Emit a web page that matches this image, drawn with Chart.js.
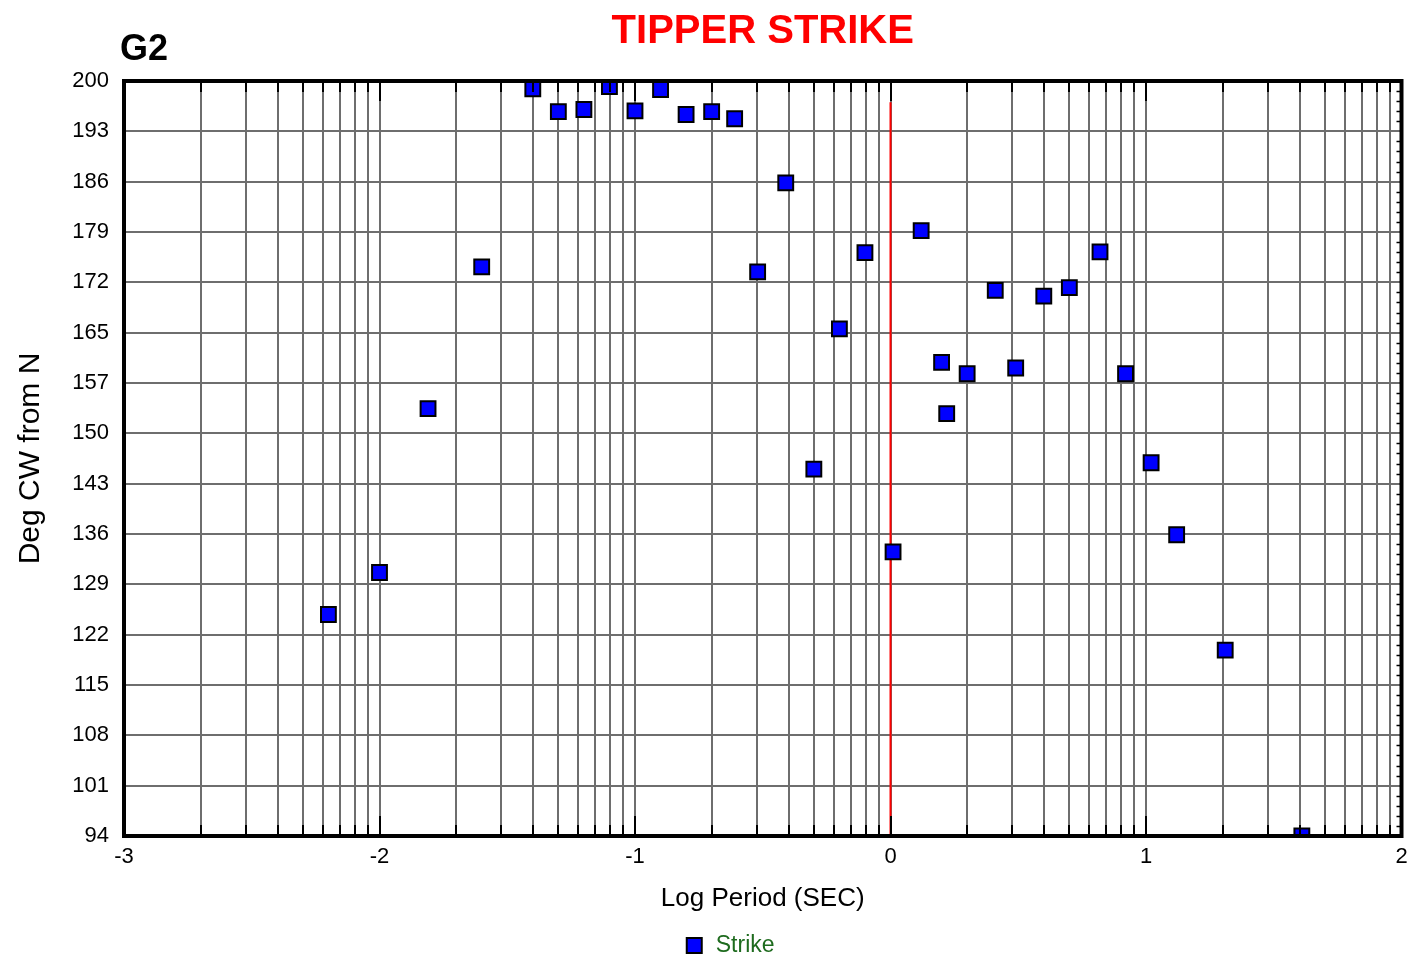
<!DOCTYPE html>
<html>
<head>
<meta charset="utf-8">
<script src="https://cdn.jsdelivr.net/npm/chart.js@4.4.1/dist/chart.umd.min.js"></script>
<style>
  html, body { margin: 0; padding: 0; background: #ffffff; }
  #wrap { width: 1414px; height: 958px; }
</style>
</head>
<body>
<div id="wrap"><canvas id="c" width="1414" height="958"></canvas></div>
<script>
// ---- data ----
const logPeriod = [-2.2, -2.0, -1.81, -1.6, -1.4, -1.3, -1.2, -1.1, -1.0, -0.9, -0.8, -0.7, -0.61, -0.52, -0.41, -0.3, -0.2, -0.1, 0.01, 0.12, 0.2, 0.22, 0.3, 0.41, 0.49, 0.6, 0.7, 0.82, 0.92, 1.02, 1.12, 1.31, 1.61];
const strikeDeg = [125.1, 131.0, 154.0, 173.9, 198.9, 195.7, 196.0, 199.2, 195.8, 198.8, 195.3, 195.7, 194.7, 173.2, 185.7, 145.5, 165.2, 175.9, 133.9, 179.0, 160.5, 153.3, 158.9, 170.6, 159.7, 169.8, 171.0, 176.0, 158.9, 146.4, 136.3, 120.1, 94.0];
const xDecades = [-3, -2, -1, 0, 1, 2];
const xTickLabels = ['-3', '-2', '-1', '0', '1', '2'];
const yTickLabels = ['94', '101', '108', '115', '122', '129', '136', '143', '150', '157', '165', '172', '179', '186', '193', '200'];
const yRange = [94, 200];
const refLineX = [0, 0];
const refLineY = [197, 94];
const chartTitle = 'TIPPER STRIKE';
const siteLabel = 'G2';
const seriesName = 'Strike';
const xTitle = 'Log Period (SEC)';
const yTitle = 'Deg CW from N';

// grid positions: each decade plus log-spaced sub-decade lines
const xGridValues = [];
for (let i = 0; i < xDecades.length - 1; i++) {
  xGridValues.push(xDecades[i]);
  for (let k = 2; k <= 9; k++) xGridValues.push(xDecades[i] + Math.log10(k));
}
xGridValues.push(xDecades[xDecades.length - 1]);
const yTickValues = yTickLabels.map((_, i) => yRange[0] + i * (yRange[1] - yRange[0]) / (yTickLabels.length - 1));

Chart.defaults.font.family = '"Liberation Sans", Arial, sans-serif';
const GRID = '#6e6e6e';

const decor = {
  id: 'decor',
  afterDatasetsDraw(chart) {
    const { ctx, chartArea: a, scales: { x, y } } = chart;
    ctx.save();
    ctx.strokeStyle = '#000';
    ctx.lineWidth = 2;
    // inward tick marks on top and bottom edges
    x.ticks.forEach(t => {
      const px = Math.round(x.getPixelForValue(t.value));
      const major = Math.abs(t.value - Math.round(t.value)) < 1e-9;
      const len = major ? 20 : 11;
      ctx.beginPath();
      ctx.moveTo(px, a.top); ctx.lineTo(px, a.top + len);
      ctx.moveTo(px, a.bottom); ctx.lineTo(px, a.bottom - len);
      ctx.stroke();
    });
    // small inward ticks on right edge
    const step = yTickValues[1] - yTickValues[0];
    ctx.lineWidth = 1.5;
    yTickValues.forEach((v, i) => {
      if (i === yTickValues.length - 1) return;
      for (let j = 1; j < 5; j++) {
        const py = Math.round(y.getPixelForValue(v + j * step / 5)) + 0.5;
        ctx.beginPath();
        ctx.moveTo(a.right - 5, py); ctx.lineTo(a.right, py);
        ctx.stroke();
      }
    });
    // frame
    ctx.lineWidth = 4;
    ctx.strokeRect(a.left, a.top, a.right - a.left, a.bottom - a.top);
    ctx.restore();
  },
  afterDraw(chart) {
    const { ctx, chartArea: a } = chart;
    const cx = (a.left + a.right) / 2;
    ctx.save();
    ctx.textBaseline = 'alphabetic';
    // title
    ctx.fillStyle = '#ff0000';
    ctx.font = 'bold 40px "Liberation Sans", Arial, sans-serif';
    ctx.textAlign = 'center';
    ctx.fillText(chartTitle, cx, a.top - 38);
    // site label
    ctx.fillStyle = '#000';
    ctx.font = 'bold 36px "Liberation Sans", Arial, sans-serif';
    ctx.textAlign = 'left';
    ctx.fillText(siteLabel, a.left - 4, a.top - 21);
    // legend
    const ds = chart.data.datasets[0];
    const bx = cx - 76, by = chart.height - 20;
    ctx.fillStyle = ds.backgroundColor;
    ctx.fillRect(bx, by, 15, 15);
    ctx.strokeStyle = ds.borderColor;
    ctx.lineWidth = 2;
    ctx.strokeRect(bx, by, 15, 15);
    ctx.fillStyle = '#1e6b1e';
    ctx.font = '23px "Liberation Sans", Arial, sans-serif';
    ctx.fillText(seriesName, bx + 29, by + 14);
    ctx.restore();
  }
};

new Chart(document.getElementById('c'), {
  type: 'scatter',
  data: {
    datasets: [
      {
        label: seriesName,
        data: logPeriod.map((v, i) => ({ x: v, y: strikeDeg[i] })),
        pointStyle: 'rect',
        pointRadius: 10.5,
        pointHoverRadius: 10.5,
        backgroundColor: '#0000ff',
        borderColor: '#000000',
        borderWidth: 2,
        clip: 0
      },
      {
        label: 'ref',
        data: refLineX.map((v, i) => ({ x: v, y: refLineY[i] })),
        showLine: true,
        borderColor: '#ff0000',
        borderWidth: 2,
        pointRadius: 0,
        clip: 0
      }
    ]
  },
  options: {
    responsive: false,
    animation: false,
    layout: { padding: { top: 81, right: 10, bottom: 0, left: 0 } },
    plugins: { legend: { display: false }, tooltip: { enabled: false }, title: { display: false } },
    scales: {
      x: {
        type: 'linear', min: xDecades[0], max: xDecades[xDecades.length - 1],
        afterBuildTicks: s => { s.ticks = xGridValues.map(v => ({ value: v })); },
        afterFit: s => { s.height = 122; s.paddingRight = 0; s.paddingLeft = 0; },
        ticks: {
          autoSkip: false, maxRotation: 0, padding: 8, color: '#000', font: { size: 22 },
          callback: v => { const i = xDecades.findIndex(d => Math.abs(d - v) < 1e-9); return i >= 0 ? xTickLabels[i] : ''; }
        },
        grid: { color: GRID, lineWidth: 2, drawTicks: false },
        border: { display: false },
        title: { display: true, text: xTitle, color: '#000', font: { size: 26 }, padding: { top: 0, bottom: 44 } }
      },
      y: {
        type: 'linear', min: yRange[0], max: yRange[1],
        afterBuildTicks: s => { s.ticks = yTickValues.map(v => ({ value: v })); },
        afterFit: s => { s.width = 124; },
        ticks: {
          autoSkip: false, padding: 15, color: '#000', font: { size: 22 },
          callback: (v, i) => yTickLabels[i]
        },
        grid: { color: GRID, lineWidth: 2, drawTicks: false },
        border: { display: false },
        title: { display: true, text: yTitle, color: '#000', font: { size: 30 }, padding: { top: 13, bottom: 0 } }
      }
    }
  },
  plugins: [decor]
});
</script>
</body>
</html>
